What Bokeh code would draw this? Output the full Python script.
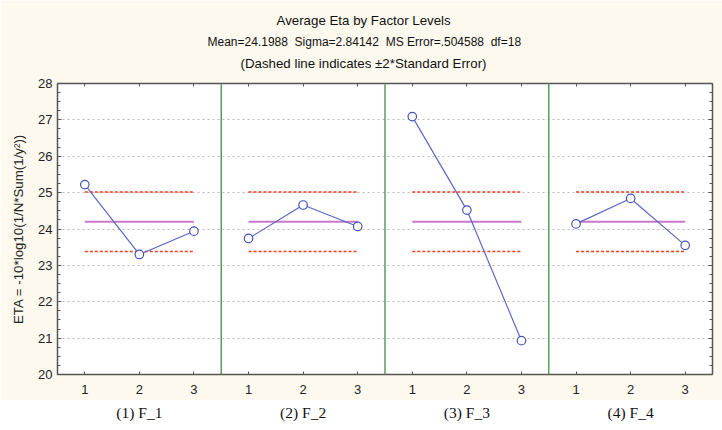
import math
from bokeh.plotting import figure
from bokeh.layouts import column
from bokeh.models import (Range1d, LinearAxis, FixedTicker, SingleIntervalTicker, Span,
                          Title, CustomLabelingPolicy)
from bokeh.embed import file_html
from bokeh.resources import INLINE

# ---- data ----
factors = ["(1) F_1", "(2) F_2", "(3) F_3", "(4) F_4"]
levels = ["1", "2", "3"]
eta_f1 = [25.22, 23.30, 23.94]
eta_f2 = [23.74, 24.66, 24.07]
eta_f3 = [27.09, 24.52, 20.93]
eta_f4 = [24.14, 24.84, 23.55]
grand_mean = 24.1988
sigma = 2.84142
ms_error = 0.504588
dof = 18
n_per_level = 3
y_ticks = [20, 21, 22, 23, 24, 25, 26, 27, 28]

series = [eta_f1, eta_f2, eta_f3, eta_f4]
nlev = len(levels)
two_se = 2 * math.sqrt(ms_error / n_per_level)

cream = "#FDF9EE"
axis_col = "#555555"

xr = Range1d(0.5, len(factors) * nlev + 0.5)
p = figure(width=722, height=400, output_backend="svg", toolbar_location=None,
           x_range=xr, y_range=Range1d(y_ticks[0], y_ticks[-1]),
           x_axis_location=None, y_axis_location=None,
           min_border_left=57, min_border_right=10, min_border_top=83, min_border_bottom=26)
p.background_fill_color = "white"
p.border_fill_color = cream
p.outline_line_color = None
p.xgrid.visible = False
p.ygrid.ticker = FixedTicker(ticks=y_ticks[1:-1])
p.ygrid.grid_line_color = "#b8b8b8"
p.ygrid.grid_line_dash = "2 3"
p.ygrid.grid_line_width = 1

all_x = [i * nlev + j + 1 for i in range(len(factors)) for j in range(nlev)]
hide_labels = CustomLabelingPolicy(code="for (const i of indices) indices.unset(i)")

def style_axis(ax):
    ax.axis_line_color = axis_col
    ax.axis_line_width = 1.5
    ax.major_tick_line_color = axis_col
    ax.minor_tick_line_color = axis_col
    ax.major_tick_out = 0
    ax.major_tick_in = 4
    ax.minor_tick_out = 0
    ax.minor_tick_in = 3

def silence(ax, standoff=0):
    ax.major_label_policy = hide_labels
    ax.major_label_text_font_size = "1px"
    ax.major_label_standoff = standoff

# left y axis
yl = LinearAxis(ticker=SingleIntervalTicker(interval=1, num_minor_ticks=4),
                axis_label="ETA = -10*log10(1/N*Sum(1/y²))")
style_axis(yl)
yl.major_label_text_font = "Liberation Sans"
yl.major_label_text_font_size = "13px"
yl.major_label_text_color = "#222222"
yl.major_label_standoff = 5
yl.axis_label_text_font = "Liberation Sans"
yl.axis_label_text_font_size = "13.3px"
yl.axis_label_text_font_style = "normal"
yl.axis_label_text_color = "#222222"
yl.axis_label_standoff = 9
p.add_layout(yl, "left")

# right y axis
yr = LinearAxis(ticker=SingleIntervalTicker(interval=1, num_minor_ticks=4))
style_axis(yr)
silence(yr)
p.add_layout(yr, "right")

# bottom x axis (levels)
xb = LinearAxis(ticker=FixedTicker(ticks=all_x, minor_ticks=[]),
                major_label_overrides={x: levels[(x - 1) % nlev] for x in all_x})
style_axis(xb)
xb.major_tick_in = 3
xb.major_label_text_font = "Liberation Sans"
xb.major_label_text_font_size = "13px"
xb.major_label_text_color = "#222222"
xb.major_label_standoff = 10
p.add_layout(xb, "below")

# top x axis
xt = LinearAxis(ticker=FixedTicker(ticks=all_x, minor_ticks=[]))
style_axis(xt)
xt.major_tick_in = 3
silence(xt, standoff=6)
p.add_layout(xt, "above")

# titles (nearest the plot first)
ms_str = f"{ms_error:.6f}".lstrip("0")
gap = "\u00a0 "
title_lines = [("(Dashed line indicates ±2*Standard Error)", 183, "13.3px"),
               (f"Mean={grand_mean}{gap}Sigma={sigma}{gap}MS Error={ms_str}{gap}df={dof}", 150, "12px"),
               ("Average Eta by Factor Levels", 219, "13.3px")]
for t, off, fs in title_lines:
    p.add_layout(Title(text=t, align="left", offset=off, standoff=4.5,
                       text_font="Liberation Sans", text_font_size=fs,
                       text_font_style="normal", text_color="#111111"), "above")

# separators
for i in range(1, len(factors)):
    p.add_layout(Span(location=i * nlev + 0.5, dimension="height",
                      line_color="#5a9e5a", line_width=1.5))

for i, vals in enumerate(series):
    xs = [i * nlev + j + 1 for j in range(nlev)]
    x0, x1 = xs[0], xs[-1]
    p.line([x0, x1], [grand_mean + two_se] * 2, line_color="#ff3a1a", line_width=1.5, line_dash="3 2")
    p.line([x0, x1], [grand_mean - two_se] * 2, line_color="#ff3a1a", line_width=1.5, line_dash="3 2")
    p.line([x0, x1], [grand_mean] * 2, line_color="#c87ac8", line_width=2)
    p.line(xs, vals, line_color="#5b68c0", line_width=1.2)
    p.scatter(xs, vals, size=8.5, marker="circle", line_color="#4452b8", fill_color="white", line_width=1.2)

# factor names strip
p2 = figure(width=722, height=30, output_backend="svg", toolbar_location=None,
            x_range=xr, y_range=Range1d(0, 1), x_axis_location=None, y_axis_location=None,
            min_border_left=57, min_border_right=10, min_border_top=0, min_border_bottom=0)
p2.background_fill_color = "white"
p2.border_fill_color = "white"
p2.outline_line_color = None
p2.grid.visible = False
centers = [i * nlev + (nlev + 1) / 2 for i in range(len(factors))]
xc = LinearAxis(ticker=FixedTicker(ticks=centers, minor_ticks=[]),
                major_label_overrides={c: f for c, f in zip(centers, factors)})
xc.axis_line_color = None
xc.major_tick_line_color = None
xc.minor_tick_line_color = None
xc.major_tick_out = 0
xc.major_tick_in = 0
xc.major_label_standoff = 2
xc.major_label_text_font = "Liberation Serif"
xc.major_label_text_font_size = "15.5px"
xc.major_label_text_color = "#111111"
p2.add_layout(xc, "above")

open("out.html", "w").write(file_html(column(p, p2, spacing=0), INLINE))
